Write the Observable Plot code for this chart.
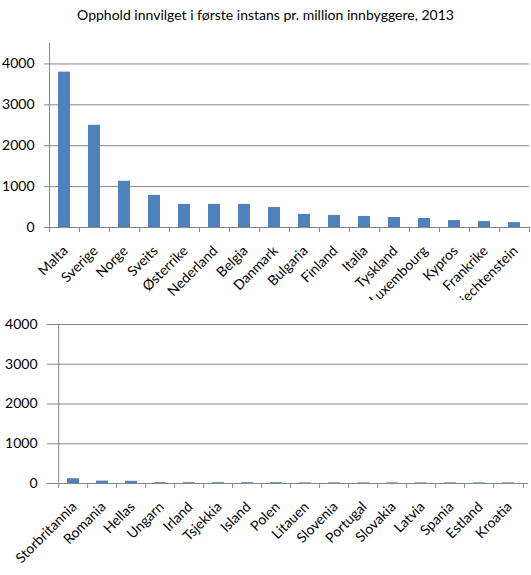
<!DOCTYPE html>
<html>
<head>
<meta charset="utf-8">
<script src="https://cdn.jsdelivr.net/npm/d3@7"></script>
<script src="https://cdn.jsdelivr.net/npm/@observablehq/plot@0.6"></script>
<style>
  body { margin: 0; background: #fff; font-family: Lato, "Open Sans", sans-serif; }
  #wrap { position: relative; width: 531px; height: 575px; overflow: hidden; }
  #title { position: absolute; left: 0; top: 6px; width: 531px; text-align: center; font-size: 14px; color: #000; }
  #top { position: absolute; left: 0; top: 30px; }
  #bottom { position: absolute; left: 0; top: 300px; }
  svg text { fill: #000; }
</style>
</head>
<body>
<div id="wrap">
  <div id="title">Opphold innvilget i første instans pr. million innbyggere, 2013</div>
  <div id="top"></div>
  <div id="bottom"></div>
</div>
<script>
const topCountries = ["Malta","Sverige","Norge","Sveits","Østerrike","Nederland","Belgia","Danmark","Bulgaria","Finland","Italia","Tyskland","Luxembourg","Kypros","Frankrike","Liechtenstein"];
const topValues = [3800, 2500, 1130, 785, 565, 565, 565, 490, 320, 295, 270, 245, 220, 170, 145, 120];

const bottomCountries = ["Storbritannia","Romania","Hellas","Ungarn","Irland","Tsjekkia","Island","Polen","Litauen","Slovenia","Portugal","Slovakia","Latvia","Spania","Estland","Kroatia"];
const bottomValues = [120, 60, 55, 20, 20, 20, 20, 20, 15, 15, 15, 15, 15, 15, 15, 15];

const yTicks = [0, 1000, 2000, 3000, 4000];
const gridTicks = [1000, 2000, 3000, 4000];

const barColor = "#4F81BD";
const gridColor = "#868686";

function chart({countries, values, yMax, width, height, marginTop, marginBottom, marginLeft, marginRight}) {
  const data = countries.map((c, i) => ({country: c, value: values[i]}));
  const step = (width - marginLeft - marginRight) / countries.length;
  return Plot.plot({
    width, height, marginTop, marginBottom, marginLeft, marginRight,
    style: {fontFamily: "Lato, 'Open Sans', sans-serif", fontSize: "14px", color: "#000", background: "#fff"},
    x: {domain: countries, padding: 0.6, paddingOuter: 0.3, label: null, axis: null},
    y: {domain: [0, yMax], label: null, axis: null},
    marks: [
      Plot.gridY(gridTicks, {stroke: gridColor, strokeOpacity: 1, strokeWidth: 1}),
      Plot.ruleX(countries.slice(0, 1), {y1: 0, y2: yMax, dx: -step / 2, stroke: gridColor, strokeWidth: 1}),
      Plot.axisY(yTicks, {tickSize: 5, tickPadding: 10, stroke: gridColor, strokeOpacity: 1, fontSize: 14, tickFormat: "d"}),
      Plot.barY(data, {x: "country", y: "value", fill: barColor}),
      Plot.ruleY([0], {stroke: gridColor, strokeWidth: 1}),
      Plot.axisX(countries, {tickSize: 5, stroke: gridColor, text: null, dx: -step / 2}),
      Plot.axisX(countries.slice(-1), {tickSize: 5, stroke: gridColor, text: null, dx: step / 2}),
      Plot.text(countries, {x: d => d, y: 0, text: d => d, rotate: -45, textAnchor: "end", lineAnchor: "middle", dy: 21, dx: 1, fontSize: 14, fill: "#000"})
    ]
  });
}

document.getElementById("top").append(chart({
  countries: topCountries, values: topValues, yMax: 4500,
  width: 531, height: 270, marginTop: 13, marginBottom: 73, marginLeft: 49, marginRight: 2
}));

document.getElementById("bottom").append(chart({
  countries: bottomCountries, values: bottomValues, yMax: 4000,
  width: 531, height: 275, marginTop: 24, marginBottom: 92, marginLeft: 52, marginRight: 3
}));
</script>
</body>
</html>
